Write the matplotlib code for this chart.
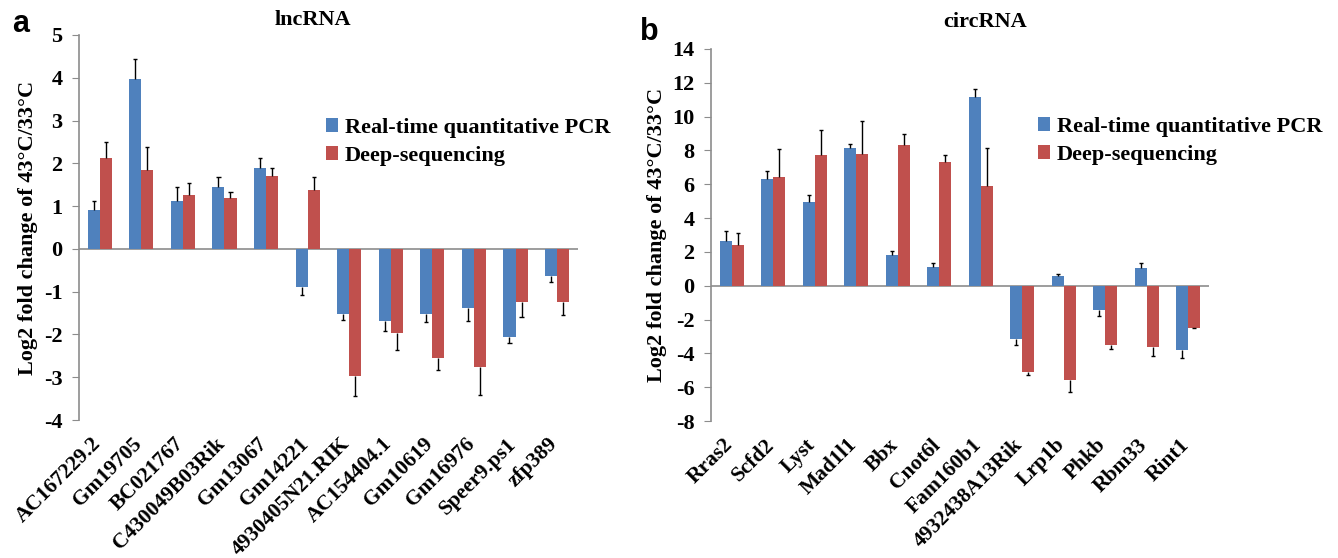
import numpy as np
import matplotlib
matplotlib.use("Agg")
import matplotlib.pyplot as plt
from matplotlib.patches import Patch
from matplotlib.transforms import ScaledTranslation

# lncRNA panel
lnc_genes = ["AC167229.2", "Gm19705", "BC021767", "C430049B03Rik", "Gm13067", "Gm14221",
             "4930405N21.RIK", "AC154404.1", "Gm10619", "Gm16976", "Speer9.ps1", "zfp389"]
lnc_qpcr = [0.90, 3.97, 1.11, 1.44, 1.90, -0.89, -1.53, -1.69, -1.53, -1.39, -2.06, -0.63]
lnc_qpcr_err = [0.23, 0.46, 0.34, 0.23, 0.22, 0.19, 0.13, 0.24, 0.18, 0.30, 0.14, 0.15]
lnc_seq = [2.12, 1.84, 1.27, 1.20, 1.70, 1.38, -2.97, -1.96, -2.55, -2.75, -1.23, -1.23]
lnc_seq_err = [0.39, 0.53, 0.28, 0.12, 0.20, 0.29, 0.48, 0.40, 0.29, 0.66, 0.36, 0.31]

# circRNA panel
circ_genes = ["Rras2", "Scfd2", "Lyst", "Mad1l1", "Bbx", "Cnot6l", "Fam160b1",
              "4932438A13Rik", "Lrp1b", "Phkb", "Rbm33", "Rint1"]
circ_qpcr = [2.63, 6.30, 4.98, 8.16, 1.80, 1.13, 11.15, -3.14, 0.55, -1.42, 1.07, -3.79]
circ_qpcr_err = [0.61, 0.50, 0.38, 0.20, 0.28, 0.21, 0.51, 0.38, 0.16, 0.36, 0.25, 0.50]
circ_seq = [2.41, 6.42, 7.71, 7.77, 8.32, 7.31, 5.91, -5.08, -5.55, -3.52, -3.64, -2.49]
circ_seq_err = [0.71, 1.66, 1.50, 1.99, 0.65, 0.40, 2.25, 0.18, 0.75, 0.22, 0.49, 0.02]

series_names = ["Real-time quantitative PCR", "Deep-sequencing"]
blue = "#4F81BD"
red = "#C0504D"
axis_grey = "#8C8C8C"
serif = "Liberation Serif"

fig = plt.figure(figsize=(13.38, 5.58), dpi=100, facecolor="white")


def draw_panel(ax, genes, qpcr, qpcr_err, seq, seq_err, ylim, yticks):
    x = np.arange(len(genes))
    w = 0.29
    for vals, errs, off, col in [(qpcr, qpcr_err, -w / 2, blue), (seq, seq_err, w / 2, red)]:
        vals = np.array(vals)
        errs = np.array(errs)
        ax.bar(x + off, vals, width=w, color=col, zorder=2)
        # one-sided error bars pointing away from zero
        tips = vals + np.sign(vals) * errs
        ax.vlines(x + off, vals, tips, color="black", lw=1.0, zorder=3)
        ax.hlines(tips, x + off - 0.05, x + off + 0.05, color="black", lw=1.0, zorder=3)

    ax.axhline(0, color=axis_grey, lw=1.2, zorder=1)
    ax.set_xlim(-0.5, len(genes) - 0.5)
    ax.set_ylim(*ylim)
    ax.set_yticks(yticks)
    ax.set_yticklabels([str(t) for t in yticks], fontfamily=serif, fontweight="bold", fontsize=16)
    ax.set_xticks(x)
    ax.set_xticklabels(genes, rotation=45, ha="right", va="top",
                       fontfamily=serif, fontweight="bold", fontsize=15.5)
    ax.tick_params(axis="x", length=0, pad=10)
    ax.tick_params(axis="y", direction="out", length=5, color=axis_grey, pad=7)
    # nudge rotated labels slightly right (after tick_params, which resets transforms)
    shift = ScaledTranslation(0.05, 0, fig.dpi_scale_trans)
    for lab in ax.get_xticklabels():
        lab.set_transform(lab.get_transform() + shift)
    for s in ["top", "right", "bottom"]:
        ax.spines[s].set_visible(False)
    ax.spines["left"].set_color(axis_grey)
    ax.spines["left"].set_linewidth(1.2)
    ax.set_ylabel("Log2 fold change of 43°C/33°C", fontfamily=serif,
                  fontweight="bold", fontsize=16, labelpad=4)


ax1 = fig.add_axes([0.0590, 0.2473, 0.3729, 0.6900])
draw_panel(ax1, lnc_genes, lnc_qpcr, lnc_qpcr_err, lnc_seq, lnc_seq_err,
           (-4, 5), list(range(-4, 6)))

ax2 = fig.add_axes([0.5314, 0.2455, 0.3722, 0.6667])
draw_panel(ax2, circ_genes, circ_qpcr, circ_qpcr_err, circ_seq, circ_seq_err,
           (-8, 14), list(range(-8, 16, 2)))

# titles and panel letters
fig.text(313 / 1338, 1 - 20 / 558, "lncRNA", fontfamily=serif, fontweight="bold",
         fontsize=16, ha="center", va="center")
fig.text(985 / 1338, 1 - 22 / 558, "circRNA", fontfamily=serif, fontweight="bold",
         fontsize=16, ha="center", va="center")
fig.text(12 / 1338, 1 - 24 / 558, "a", fontfamily="Liberation Sans", fontweight="bold",
         fontsize=22, ha="left", va="center")
fig.text(640 / 1338, 1 - 32 / 558, "b", fontfamily="Liberation Sans", fontweight="bold",
         fontsize=22, ha="left", va="center")

handles = [Patch(facecolor=blue), Patch(facecolor=red)]
for anchor in [(326 / 1338, 1 - 118 / 558), (1038 / 1338, 1 - 117 / 558)]:
    fig.legend(handles, series_names, loc="upper left", bbox_to_anchor=anchor,
               frameon=False, borderpad=0, borderaxespad=0, handlelength=0.55,
               handleheight=0.55, handletextpad=0.3, labelspacing=0.35,
               prop={"family": serif, "weight": "bold", "size": 16})

fig.savefig("out.png", dpi=100)
